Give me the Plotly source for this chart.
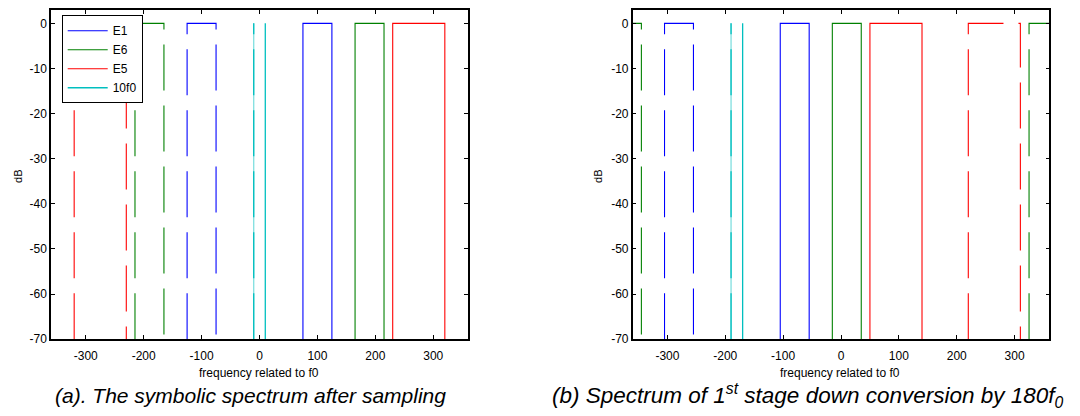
import plotly.graph_objects as go

# Band edges (in units of f0) for each signal, per panel.
series_names = ["E1", "E6", "E5", "10f0"]
series_colors = ["#0000ff", "#008000", "#ff0000", "#00bfbf"]

# (a) spectrum after sampling: positive bands solid, mirrored bands dashed
a_pos_bands = {"E1": [(75, 125)], "E6": [(165, 215)], "E5": [(230, 320)]}
a_neg_bands = {"E1": [(-125, -75)], "E6": [(-215, -165)], "E5": [(-320, -230)]}
a_tone_pos = [10]
a_tone_neg = [-10]

# (b) after first down conversion by 180 f0
b_pos_bands = {"E1": [(-105, -55)], "E6": [(-15, 35)], "E5": [(50, 140)]}
b_neg_bands = {"E1": [(-305, -255)], "E6": [(-395, -345), (325, 375)], "E5": [(220, 310)]}
b_tone_pos = [-170]
b_tone_neg = [-190]

level_top = 0      # dB
level_floor = -70  # dB

x_tick_vals = [-300, -200, -100, 0, 100, 200, 300]
x_tick_text = ["-300", "-200", "-100", "0", "100", "200", "300"]
y_tick_vals = [-70, -60, -50, -40, -30, -20, -10, 0]
y_tick_text = ["-70", "-60", "-50", "-40", "-30", "-20", "-10", "0"]

FONT = "Arial, 'Liberation Sans', sans-serif"
DASH = "46px,15px"
W, H = 1080, 416

fig = go.Figure()


def band_trace(lo, hi, color, dashed, xa, ya, name, show):
    return go.Scatter(
        x=[lo, lo, hi, hi], y=[level_floor, level_top, level_top, level_floor],
        mode="lines", line=dict(color=color, width=1.1, dash=DASH if dashed else "solid"),
        xaxis=xa, yaxis=ya, name=name, showlegend=show, legendgroup=name,
        hoverinfo="skip")


def tone_trace(f, color, dashed, xa, ya, name, show):
    return go.Scatter(
        x=[f, f], y=[level_floor, level_top], mode="lines",
        line=dict(color=color, width=1.3, dash=DASH if dashed else "solid"),
        xaxis=xa, yaxis=ya, name=name, showlegend=show, legendgroup=name,
        hoverinfo="skip")


panels = [
    ("x", "y", a_pos_bands, a_neg_bands, a_tone_pos, a_tone_neg, True),
    ("x2", "y2", b_pos_bands, b_neg_bands, b_tone_pos, b_tone_neg, False),
]

for xa, ya, pos, neg, tpos, tneg, legend in panels:
    for name, color in zip(series_names[:3], series_colors[:3]):
        for i, (lo, hi) in enumerate(pos[name]):
            fig.add_trace(band_trace(lo, hi, color, False, xa, ya, name, legend and i == 0))
        for lo, hi in neg[name]:
            fig.add_trace(band_trace(lo, hi, color, True, xa, ya, name, False))
    tone_color = series_colors[3]
    for f in tpos:
        fig.add_trace(tone_trace(f, tone_color, False, xa, ya, "10f0", legend))
    for f in tneg:
        # mirrored tone: pale underlay with a dashed stroke on top
        fig.add_trace(go.Scatter(
            x=[f, f], y=[level_floor, level_top], mode="lines",
            line=dict(color="rgba(0,191,191,0.5)", width=1.3),
            xaxis=xa, yaxis=ya, showlegend=False, hoverinfo="skip"))
        fig.add_trace(tone_trace(f, tone_color, True, xa, ya, "10f0", False))

axis_common = dict(
    showline=True, linecolor="black", linewidth=1.5, mirror="allticks",
    ticks="inside", ticklen=4, tickwidth=1, tickcolor="black",
    showgrid=False, zeroline=False,
    tickfont=dict(family=FONT, size=12, color="black"),
)

left_dom = [51 / W, 468 / W]
right_dom = [632.7 / W, 1049.3 / W]
y_dom = [1 - 345 / H, 1 - 10 / H]

fig.update_layout(
    width=W, height=H,
    margin=dict(l=0, r=0, t=0, b=0),
    paper_bgcolor="white", plot_bgcolor="white",
    font=dict(family=FONT, size=12, color="black"),
    xaxis=dict(domain=left_dom, range=[-360, 360], anchor="y", ticklabelstandoff=5,
               tickvals=x_tick_vals, ticktext=x_tick_text, **axis_common),
    yaxis=dict(domain=y_dom, range=[-70, 3], anchor="x",
               tickvals=y_tick_vals, ticktext=y_tick_text, **axis_common),
    xaxis2=dict(domain=right_dom, range=[-360, 360], anchor="y2", ticklabelstandoff=5,
                tickvals=x_tick_vals, ticktext=x_tick_text, **axis_common),
    yaxis2=dict(domain=y_dom, range=[-70, 3], anchor="x2",
                tickvals=y_tick_vals, ticktext=y_tick_text, **axis_common),
    legend=dict(x=61.7 / W, y=1 - 15.5 / H, xanchor="left", yanchor="top",
                bgcolor="white", bordercolor="black", borderwidth=1,
                font=dict(family=FONT, size=12, color="black"),
                tracegroupgap=0, itemwidth=40),
    showlegend=True,
)

annotations = [
    dict(text="frequency related to f0", x=259 / W, y=1 - 379 / H, size=12),
    dict(text="frequency related to f0", x=840 / W, y=1 - 379 / H, size=12),
    dict(text="dB", x=18 / W, y=1 - 180 / H, size=11, angle=-90),
    dict(text="dB", x=598 / W, y=1 - 180 / H, size=11, angle=-90),
    dict(text="<i>(a). The symbolic spectrum after sampling</i>",
         x=250 / W, y=1 - 402 / H, size=21),
    dict(text="<i>(b) Spectrum of 1<sup>st</sup> stage down conversion by 180f<sub>0</sub></i>",
         x=808 / W, y=1 - 402 / H, size=22.5),
]
for a in annotations:
    fig.add_annotation(
        text=a["text"], x=a["x"], y=a["y"], xref="paper", yref="paper",
        xanchor="center", yanchor="middle", showarrow=False,
        textangle=a.get("angle", 0),
        font=dict(family=FONT, size=a["size"], color="black"))

fig.write_html("out.html")
